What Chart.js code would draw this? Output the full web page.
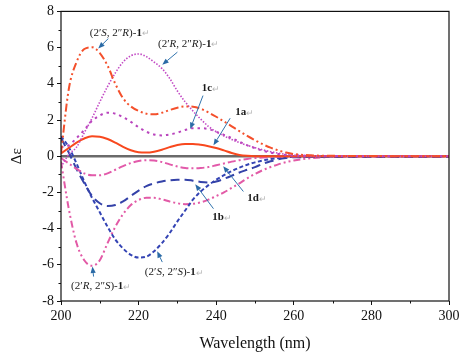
<!DOCTYPE html>
<html><head><meta charset="utf-8">
<script src="https://cdn.jsdelivr.net/npm/chart.js@4"></script>
<style>html,body{margin:0;padding:0;background:#fff}#w{width:466px;height:357px;position:relative}</style>
</head><body><div id="w"><canvas id="c"></canvas></div>
<script>
const wavelengths = [200,202,204,206,208,210,212,214,216,218,220,222,224,226,228,230,232,234,236,238,240,242,244,246,248,250,252,254,256,258,260,265,270,280,290,300];
const cd_SR = [0.15,3.7,5.2,5.92,6.02,5.7,5.0,4.0,3.2,2.75,2.5,2.35,2.32,2.4,2.55,2.68,2.75,2.73,2.62,2.42,2.18,1.92,1.65,1.38,1.12,0.88,0.66,0.47,0.32,0.2,0.12,0.04,0.02,0.01,0,0];
const cd_RR = [-0.6,0.1,0.5,1.3,2.1,3.0,3.85,4.6,5.2,5.55,5.65,5.5,5.2,4.85,4.3,3.6,3.0,2.5,2.05,1.65,1.35,1.12,0.92,0.75,0.6,0.47,0.35,0.25,0.17,0.1,0.06,0.02,0.01,0,0,0];
const cd_1c = [0.5,0.6,1.0,1.45,1.95,2.25,2.4,2.35,2.15,1.9,1.6,1.35,1.2,1.15,1.2,1.3,1.45,1.55,1.55,1.5,1.35,1.18,1.0,0.8,0.6,0.45,0.3,0.2,0.12,0.07,0.04,0.02,0.01,0,0,0];
const cd_1a = [0.15,0.45,0.75,0.98,1.1,1.08,0.95,0.75,0.52,0.33,0.22,0.2,0.25,0.36,0.5,0.62,0.68,0.68,0.63,0.55,0.45,0.32,0.18,0.07,0.02,0,0,0,0,0,0,0,0,0,0,0];
const cd_1d = [-0.1,-0.4,-0.7,-0.95,-1.05,-1.05,-0.95,-0.75,-0.55,-0.38,-0.26,-0.22,-0.24,-0.32,-0.45,-0.57,-0.65,-0.67,-0.65,-0.6,-0.5,-0.4,-0.3,-0.22,-0.15,-0.1,-0.07,-0.05,-0.03,-0.02,-0.01,0,0,0,0,0];
const cd_1b = [1.0,0.2,-0.7,-1.5,-2.2,-2.6,-2.75,-2.7,-2.5,-2.2,-1.9,-1.65,-1.5,-1.4,-1.33,-1.3,-1.3,-1.35,-1.42,-1.45,-1.4,-1.25,-1.08,-0.9,-0.75,-0.6,-0.42,-0.28,-0.17,-0.1,-0.06,-0.05,-0.05,-0.05,-0.05,-0.05];
const cd_SS = [1.1,0.5,-0.4,-1.4,-2.3,-3.1,-3.9,-4.6,-5.1,-5.45,-5.6,-5.55,-5.25,-4.8,-4.25,-3.6,-3.0,-2.4,-1.95,-1.6,-1.3,-1.05,-0.82,-0.63,-0.47,-0.34,-0.24,-0.16,-0.1,-0.06,-0.04,-0.02,-0.01,0,0,0];
const cd_RS = [-0.3,-2.9,-4.8,-5.75,-6.05,-5.75,-4.8,-3.9,-3.2,-2.7,-2.42,-2.3,-2.3,-2.38,-2.5,-2.6,-2.65,-2.63,-2.55,-2.4,-2.2,-2.0,-1.75,-1.5,-1.22,-0.98,-0.77,-0.6,-0.45,-0.33,-0.24,-0.1,-0.04,-0.01,0,0];
const xMajorTicks = [200,220,240,260,280,300];
const xMinorTicks = [210,230,250,270,290];
const yMajorTicks = [-8,-6,-4,-2,0,2,4,6,8];
const yMinorTicks = [-7,-5,-3,-1,1,3,5,7];
const seriesNames = ["(2'S,2''R)-1","(2'R,2''R)-1","1c","1a","1d","1b","(2'S,2''S)-1","(2'R,2''S)-1"];

const SERIF = '"Liberation Serif", "Times New Roman", serif';
const pts = arr => wavelengths.map((x,i)=>({x, y: arr[i]}));
const mk = (label, arr, color, dash, width) => ({
  label, data: pts(arr), borderColor: color, borderDash: dash, borderWidth: width,
  pointRadius: 0, fill: false, cubicInterpolationMode: 'monotone', borderCapStyle: 'butt'
});

const datasets = [
  mk(seriesNames[0], cd_SR, '#f4502c', [8,3,2,3,2,3], 2),
  mk(seriesNames[1], cd_RR, '#c24ac4', [1.5,1.6], 1.6),
  mk(seriesNames[2], cd_1c, '#b945bd', [2.5,4], 2),
  mk(seriesNames[3], cd_1a, '#f8481e', [], 2),
  mk(seriesNames[4], cd_1d, '#e25aaa', [8,3,2,3], 2),
  mk(seriesNames[5], cd_1b, '#3442a8', [9,5], 2),
  mk(seriesNames[6], cd_SS, '#3444b4', [4,2.5], 2),
  mk(seriesNames[7], cd_RS, '#e25aa6', [7,3,2,3,2,3], 2),
  {label:'zero', data:[{x:200,y:0},{x:300,y:0}], borderColor:'#6a6a6a', borderWidth:2.6, pointRadius:0, borderDash:[]}
];

// annotation labels: segments [text, style]; anchor (data coords), arrow from -> to (data coords)
const annotations = [
  {segs:[["(2′",""],["S","i"],[", 2″",""],["R","i"],[")-",""],["1","b"],["↵","g"]], at:[207.4,6.8], from:[212.2,6.5], to:[209.6,5.95]},
  {segs:[["(2′",""],["R","i"],[", 2″",""],["R","i"],[")-",""],["1","b"],["↵","g"]], at:[225.0,6.2], from:[230,5.75], to:[226.1,5.05]},
  {segs:[["1c","b"],["↵","g"]], at:[236.3,3.76], from:[236.6,3.35], to:[233.3,1.5]},
  {segs:[["1a","b"],["↵","g"]], at:[244.9,2.43], from:[243.6,2.1], to:[239.3,0.6]},
  {segs:[["1d","b"],["↵","g"]], at:[248.0,-2.32], from:[247,-1.95], to:[241.8,-0.55]},
  {segs:[["1b","b"],["↵","g"]], at:[239.0,-3.37], from:[239.3,-2.9], to:[234.6,-1.55]},
  {segs:[["(2′",""],["S","i"],[", 2″",""],["S","i"],[")-",""],["1","b"],["↵","g"]], at:[221.6,-6.42], from:[226.1,-5.85], to:[224.8,-5.25]},
  {segs:[["(2′",""],["R","i"],[", 2″",""],["S","i"],[")-",""],["1","b"],["↵","g"]], at:[202.6,-7.19], from:[208.4,-6.65], to:[208.1,-6.1]}
];

const decor = {
  id: 'decor',
  afterDatasetsDraw(chart) {
    const {ctx, chartArea: a, scales: {x, y}} = chart;
    ctx.save();
    ctx.strokeStyle = '#111'; ctx.lineWidth = 1.2;
    ctx.strokeRect(a.left, a.top, a.right - a.left, a.bottom - a.top);
    ctx.lineWidth = 1;
    ctx.beginPath();
    xMinorTicks.forEach(v => { const px = Math.round(x.getPixelForValue(v)) + 0.5; ctx.moveTo(px, a.bottom); ctx.lineTo(px, a.bottom + 2.5); });
    yMinorTicks.forEach(v => { const py = Math.round(y.getPixelForValue(v)) + 0.5; ctx.moveTo(a.left, py); ctx.lineTo(a.left - 2.5, py); });
    ctx.stroke();
    annotations.forEach(an => {
      const fx = x.getPixelForValue(an.from[0]), fy = y.getPixelForValue(an.from[1]);
      const tx = x.getPixelForValue(an.to[0]), ty = y.getPixelForValue(an.to[1]);
      ctx.strokeStyle = '#3173ad'; ctx.fillStyle = '#2a6aa6'; ctx.lineWidth = 1;
      const ang = Math.atan2(ty - fy, tx - fx), L = 6.5, W = 2.6;
      const bx = tx - L*Math.cos(ang), by = ty - L*Math.sin(ang);
      ctx.beginPath(); ctx.moveTo(fx, fy); ctx.lineTo(bx, by); ctx.stroke();
      ctx.beginPath(); ctx.moveTo(tx, ty);
      ctx.lineTo(bx + W*Math.sin(ang), by - W*Math.cos(ang));
      ctx.lineTo(bx - W*Math.sin(ang), by + W*Math.cos(ang));
      ctx.closePath(); ctx.fill();
      let cx = x.getPixelForValue(an.at[0]); const cy = y.getPixelForValue(an.at[1]);
      ctx.textBaseline = 'middle'; ctx.textAlign = 'left';
      an.segs.forEach(([t, st]) => {
        const sz = st === 'g' ? 9 : 11;
        ctx.font = (st === 'i' ? 'italic ' : '') + (st === 'b' ? 'bold ' : '') + sz + 'px ' + SERIF;
        ctx.fillStyle = st === 'g' ? '#b8b8b8' : '#1a1a1a';
        ctx.fillText(t, cx, cy + (st === 'g' ? 1 : 0));
        cx += ctx.measureText(t).width;
      });
    });
    ctx.restore();
  }
};

new Chart(document.getElementById('c'), {
  type: 'line',
  data: { datasets },
  options: {
    responsive: true, maintainAspectRatio: false, animation: false, devicePixelRatio: 1,
    layout: { padding: { left: 0, top: 11, right: 17, bottom: 0 } },
    plugins: { legend: { display: false }, tooltip: { enabled: false } },
    scales: {
      x: {
        type: 'linear', min: 200, max: 300,
        afterBuildTicks: s => { s.ticks = xMajorTicks.map(v => ({value: v})); },
        afterFit: s => { s.height = 56; },
        ticks: { color: '#111', font: { family: SERIF, size: 14 }, padding: 3, maxRotation: 0, callback: v => String(v) },
        grid: { drawOnChartArea: false, drawTicks: true, tickLength: 4, color: '#111' },
        border: { display: false },
        title: { display: true, text: 'Wavelength (nm)', color: '#111', font: { family: SERIF, size: 16 }, padding: { top: 0, bottom: 4 } }
      },
      y: {
        type: 'linear', min: -8, max: 8,
        afterBuildTicks: s => { s.ticks = yMajorTicks.map(v => ({value: v})); },
        afterFit: s => { s.width = 61; },
        ticks: { color: '#111', font: { family: SERIF, size: 14 }, padding: 3, callback: v => String(v) },
        grid: { drawOnChartArea: false, drawTicks: true, tickLength: 4, color: '#111' },
        border: { display: false },
        title: { display: true, text: 'Δε', color: '#111', font: { family: SERIF, size: 15 }, padding: { top: 8, bottom: 8 } }
      }
    }
  },
  plugins: [decor]
});
</script>
</body></html>
